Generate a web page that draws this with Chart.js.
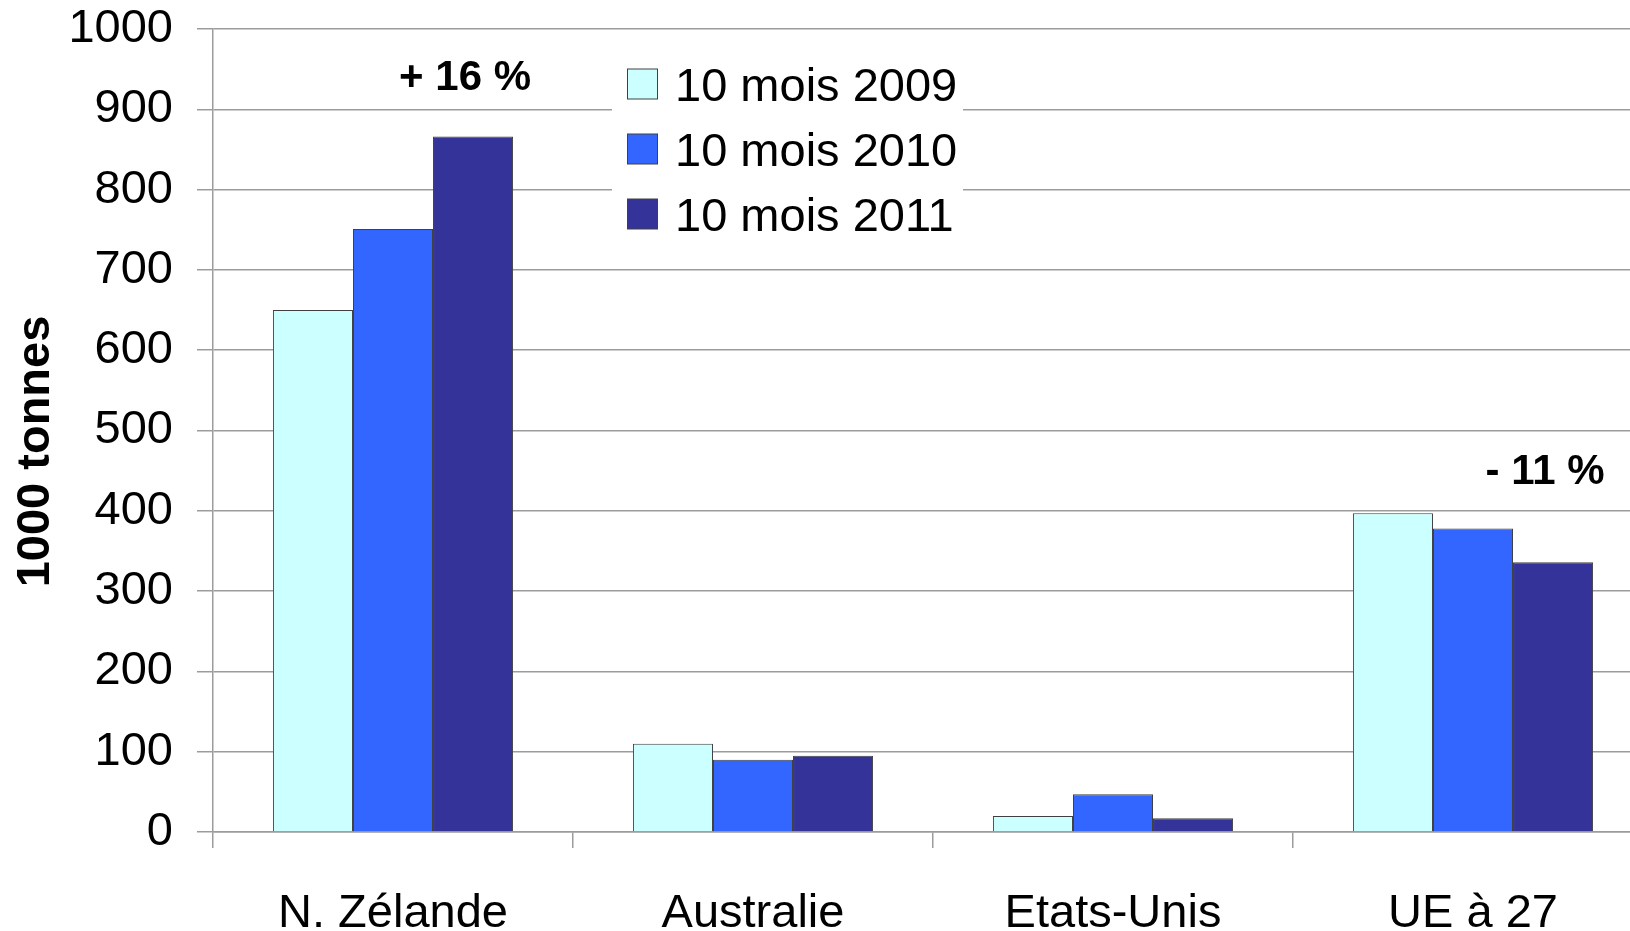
<!DOCTYPE html>
<html>
<head>
<meta charset="utf-8">
<script src="https://cdn.jsdelivr.net/npm/chart.js@4"></script>
<style>
  html, body { margin: 0; padding: 0; background: #fff; overflow: hidden; }
  #wrap { position: relative; width: 1653px; height: 931px; }
</style>
</head>
<body>
<div id="wrap"><canvas id="chart"></canvas></div>
<script>
// categories and series (1000 tonnes)
const categories = ['N. Zélande', 'Australie', 'Etats-Unis', 'UE à 27'];
const seriesLabels = ['10 mois 2009', '10 mois 2010', '10 mois 2011'];
const values2009 = [650, 110, 20, 397];
const values2010 = [751, 90, 47, 378];
const values2011 = [866, 95, 17, 336];
const seriesColors = ['#CCFFFF', '#3366FF', '#333399'];
const yTicks = [0, 100, 200, 300, 400, 500, 600, 700, 800, 900, 1000];
const yTitle = '1000 tonnes';
// change labels above the groups
const noteTexts = ['+ 16 %', '- 11 %'];
const noteCategory = [0, 3];
const noteValue = [938, 448];

const FONT = "'Liberation Sans', Arial, sans-serif";
const GRID = '#9c9c9c';

// legend box drawn inside the plot, over the grid
const boxLegend = {
    id: 'boxLegend',
    afterDraw(chart) {
        const ctx = chart.ctx;
        ctx.save();
        ctx.fillStyle = '#fff';
        ctx.fillRect(612, 45, 351, 200);
        chart.data.datasets.forEach((ds, i) => {
            const cy = 84 + i * 65;
            ctx.fillStyle = ds.backgroundColor;
            ctx.fillRect(627.5, cy - 15, 30, 30);
            ctx.strokeStyle = '#404040';
            ctx.lineWidth = 1;
            ctx.strokeRect(627.5, cy - 15, 30, 30);
            ctx.fillStyle = '#000';
            ctx.font = '47px ' + FONT;
            ctx.textBaseline = 'middle';
            ctx.textAlign = 'left';
            ctx.fillText(ds.label, 675, cy + 4);
        });
        ctx.restore();
    }
};

// y title sits a bit below the axis middle in the original
const yTitlePlugin = {
    id: 'yTitlePlugin',
    afterDraw(chart) {
        const ctx = chart.ctx;
        const a = chart.chartArea;
        ctx.save();
        ctx.translate(36, (a.top + a.bottom) / 2 + 21);
        ctx.rotate(-Math.PI / 2);
        ctx.fillStyle = '#000';
        ctx.font = 'bold 47px ' + FONT;
        ctx.textAlign = 'center';
        ctx.textBaseline = 'middle';
        ctx.fillText(yTitle, 0, 0);
        ctx.restore();
    }
};

const notes = {
    id: 'notes',
    afterDatasetsDraw(chart) {
        const ctx = chart.ctx;
        const meta = chart.getDatasetMeta(2);
        const y = chart.scales.y;
        ctx.save();
        ctx.fillStyle = '#000';
        ctx.font = 'bold 42px ' + FONT;
        ctx.textAlign = 'center';
        ctx.textBaseline = 'middle';
        noteTexts.forEach((t, i) => {
            const bar = meta.data[noteCategory[i]];
            ctx.fillText(t, bar.x - 8, y.getPixelForValue(noteValue[i]));
        });
        ctx.restore();
    }
};

new Chart(document.getElementById('chart'), {
    type: 'bar',
    data: {
        labels: categories,
        datasets: [values2009, values2010, values2011].map((v, i) => ({
            label: seriesLabels[i],
            data: v,
            backgroundColor: seriesColors[i],
            borderColor: '#404040',
            borderWidth: 1,
            categoryPercentage: 0.667,
            barPercentage: 1,
        })),
    },
    options: {
        responsive: true,
        maintainAspectRatio: false,
        animation: false,
        layout: { padding: { top: 29, left: 0, right: 0, bottom: 0 } },
        plugins: {
            legend: { display: false },
            tooltip: { enabled: false },
        },
        scales: {
            x: {
                grid: { display: true, drawOnChartArea: false, color: GRID, lineWidth: 1.5, tickLength: 16 },
                border: { display: true, color: GRID, width: 1.5 },
                ticks: { color: '#000', font: { family: FONT, size: 47 }, padding: 38, maxRotation: 0 },
                afterFit(s) { s.height = 99; },
            },
            y: {
                min: 0,
                max: 1000,
                afterBuildTicks(s) { s.ticks = yTicks.map(v => ({ value: v })); },
                grid: { color: GRID, lineWidth: 1.5, tickLength: 16 },
                border: { display: true, color: GRID, width: 1.5 },
                ticks: { color: '#000', font: { family: FONT, size: 47 }, padding: 24, callback: v => String(v) },
                title: { display: false },
                afterFit(s) { s.width = 213; s.paddingTop = 0; s.paddingBottom = 0; },
            },
        },
    },
    plugins: [boxLegend, notes, yTitlePlugin],
});
</script>
</body>
</html>
